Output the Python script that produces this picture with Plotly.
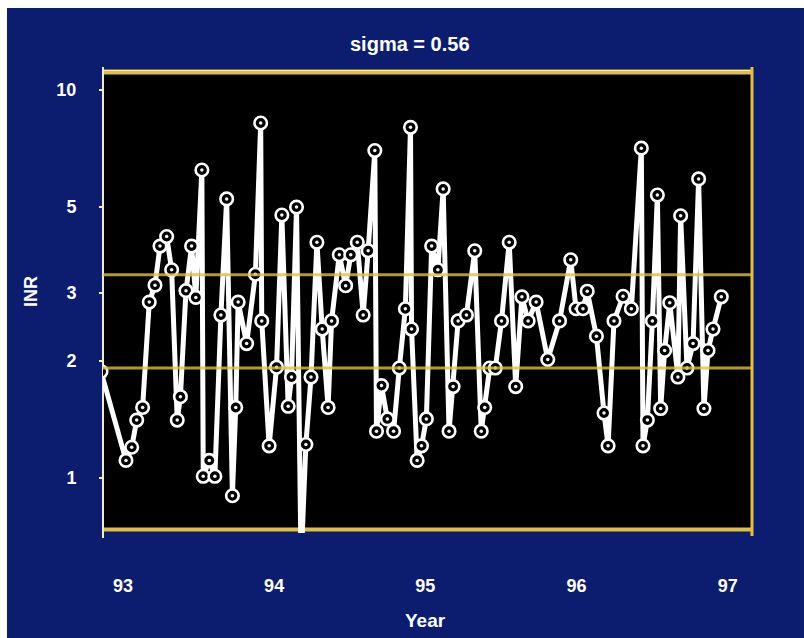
import plotly.graph_objects as go

# INR readings over time (decimal years, 19xx)
years = [
    92.855, 93.020, 93.058, 93.091, 93.130, 93.174, 93.212, 93.245, 93.289, 93.322,
    93.359, 93.380, 93.417, 93.454, 93.482, 93.522, 93.531, 93.571, 93.608, 93.648,
    93.686, 93.724, 93.746, 93.762, 93.818, 93.876, 93.911, 93.918, 93.967, 94.016,
    94.051, 94.093, 94.115, 94.148, 94.178, 94.210, 94.244, 94.283, 94.318, 94.357,
    94.380, 94.431, 94.473, 94.507, 94.550, 94.589, 94.622, 94.666, 94.677, 94.710,
    94.749, 94.790, 94.828, 94.868, 94.902, 94.909, 94.946, 94.975, 95.007, 95.042,
    95.083, 95.118, 95.157, 95.184, 95.217, 95.272, 95.327, 95.370, 95.393, 95.426,
    95.463, 95.504, 95.555, 95.598, 95.639, 95.680, 95.733, 95.810, 95.888, 95.962,
    95.997, 96.043, 96.071, 96.132, 96.182, 96.209, 96.248, 96.308, 96.363, 96.429,
    96.440, 96.469, 96.502, 96.535, 96.557, 96.583, 96.617, 96.671, 96.689, 96.731,
    96.771, 96.808, 96.843, 96.870, 96.903, 96.958,
]
inr = [
    1.88, 1.11, 1.20, 1.41, 1.52, 2.84, 3.14, 3.96, 4.19, 3.44,
    1.41, 1.62, 3.04, 3.96, 2.92, 6.22, 1.01, 1.11, 1.01, 2.63,
    5.24, 0.90, 1.52, 2.84, 2.22, 3.35, 8.22, 2.54, 1.21, 1.93,
    4.76, 1.53, 1.82, 4.99, 0.60, 1.22, 1.82, 4.05, 2.42, 1.52,
    2.54, 3.76, 3.13, 3.76, 4.05, 2.63, 3.85, 6.98, 1.32, 1.73,
    1.42, 1.32, 1.92, 2.73, 8.01, 2.42, 1.11, 1.21, 1.42, 3.96,
    3.44, 5.56, 1.32, 1.72, 2.54, 2.63, 3.85, 1.32, 1.52, 1.92,
    1.92, 2.54, 4.05, 1.72, 2.93, 2.54, 2.84, 2.02, 2.54, 3.65,
    2.73, 2.73, 3.03, 2.32, 1.47, 1.21, 2.54, 2.94, 2.73, 7.08,
    1.21, 1.41, 2.54, 5.36, 1.51, 2.13, 2.83, 1.82, 4.74, 1.92,
    2.22, 5.90, 1.51, 2.13, 2.42, 2.93,
]

# Target band limits
band_low = 1.92
band_high = 3.34

y_ticks = [1, 2, 3, 5, 10]
y_tick_text = ["1", "2", "3", "5", "10"]
x_ticks = [93, 94, 95, 96, 97]
x_tick_text = ["93", "94", "95", "96", "97"]

title_text = "sigma = 0.56"
x_title = "Year"
y_title = "INR"

FONT = "Liberation Sans, Arial, sans-serif"
BLUE = "#0c1d6f"
GOLD = "#e3bf3c"
PALE = "#f2ecc0"

W, H = 804, 638
L, R, T, B = 103, 52, 70, 105
PW, PH = W - L - R, H - T - B


def xp(px):
    return (px - L) / PW


def yp(py):
    return (H - B - py) / PH


fig = go.Figure()

fig.add_trace(go.Scatter(
    x=years, y=inr, mode="lines+markers",
    line=dict(color="white", width=5),
    marker=dict(symbol="circle", size=12.5, color="black",
                line=dict(color="white", width=2.6)),
    hoverinfo="x+y", showlegend=False,
))
fig.add_trace(go.Scatter(
    x=years, y=inr, mode="markers",
    marker=dict(symbol="circle", size=3.5, color="#f4f4f4", line=dict(width=0)),
    hoverinfo="skip", showlegend=False,
))

shapes = [
    # blue slide background
    dict(type="rect", xref="paper", yref="paper", layer="below",
         x0=xp(7), x1=xp(W + 10), y0=yp(H + 10), y1=yp(8),
         fillcolor=BLUE, line=dict(width=0)),
    # black plotting field
    dict(type="rect", xref="paper", yref="paper", layer="below",
         x0=xp(103), x1=xp(752), y0=yp(531), y1=yp(72),
         fillcolor="black", line=dict(width=0)),
    # frame
    dict(type="line", xref="paper", yref="paper", layer="below",
         x0=xp(103), x1=xp(752), y0=yp(72), y1=yp(72),
         line=dict(color=GOLD, width=5)),
    dict(type="line", xref="paper", yref="paper", layer="below",
         x0=xp(104), x1=xp(751), y0=yp(70.5), y1=yp(70.5),
         line=dict(color=PALE, width=1.2)),
    dict(type="line", xref="paper", yref="paper", layer="below",
         x0=xp(103), x1=xp(752), y0=yp(529.5), y1=yp(529.5),
         line=dict(color=GOLD, width=4)),
    dict(type="line", xref="paper", yref="paper", layer="below",
         x0=xp(103), x1=xp(103), y0=yp(538), y1=yp(67),
         line=dict(color=PALE, width=2)),
    dict(type="line", xref="paper", yref="paper", layer="below",
         x0=xp(752), x1=xp(752), y0=yp(536), y1=yp(67),
         line=dict(color=GOLD, width=3)),
]
# target band lines
for v in (band_low, band_high):
    shapes.append(dict(type="line", xref="paper", yref="y", layer="above",
                       x0=xp(103), x1=xp(752), y0=v, y1=v,
                       line=dict(color=GOLD, width=3), opacity=0.8))

annotations = [
    dict(text=title_text, xref="paper", yref="paper", x=xp(410), y=yp(44),
         showarrow=False, xanchor="center", yanchor="middle",
         font=dict(family=FONT, size=20, color="white", weight="bold")),
    dict(text=y_title, xref="paper", yref="paper", x=xp(31), y=yp(292),
         showarrow=False, textangle=-90, xanchor="center", yanchor="middle",
         font=dict(family=FONT, size=18, color="white", weight="bold")),
    dict(text=x_title, xref="paper", yref="paper", x=xp(425), y=yp(620),
         showarrow=False, xanchor="center", yanchor="middle",
         font=dict(family=FONT, size=19, color="white", weight="bold")),
]

fig.update_layout(
    width=W, height=H,
    margin=dict(l=L, r=R, t=T, b=B, pad=0),
    paper_bgcolor="white",
    plot_bgcolor="rgba(0,0,0,0)",
    shapes=shapes,
    annotations=annotations,
    showlegend=False,
    xaxis=dict(
        range=[92.868, 97.161], tickvals=x_ticks, ticktext=x_tick_text,
        showgrid=False, zeroline=False, showline=False, ticks="",
        ticklabelstandoff=40,
        tickfont=dict(family=FONT, size=18, color="white", weight="bold"),
    ),
    yaxis=dict(
        type="log", range=[-0.1418, 1.0515],
        tickvals=y_ticks, ticktext=y_tick_text,
        showgrid=False, zeroline=False, showline=False,
        ticks="outside", ticklen=3, tickwidth=1.5, tickcolor=PALE,
        ticklabelstandoff=19,
        tickfont=dict(family=FONT, size=18, color="white", weight="bold"),
    ),
)

fig.write_html("out.html")
